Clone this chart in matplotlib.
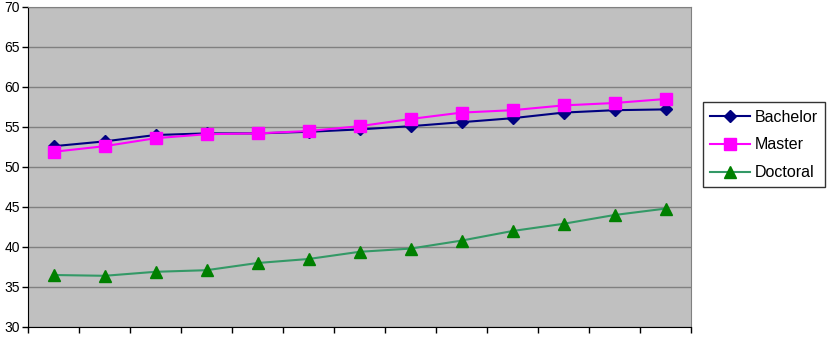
import matplotlib
matplotlib.use("Agg")
import matplotlib.pyplot as plt
import numpy as np

plt.rcParams["font.family"] = ["Liberation Sans", "DejaVu Sans"]

# values (13 categories, no x labels)
bachelor = [52.6, 53.2, 54.0, 54.2, 54.2, 54.4, 54.7, 55.1, 55.6, 56.1, 56.8, 57.1, 57.2]
master   = [51.9, 52.6, 53.6, 54.1, 54.2, 54.5, 55.1, 56.0, 56.8, 57.1, 57.7, 58.0, 58.5]
doctoral = [36.5, 36.4, 36.9, 37.1, 38.0, 38.5, 39.4, 39.8, 40.8, 42.0, 42.9, 44.0, 44.8]
y_ticks = [30, 35, 40, 45, 50, 55, 60, 65, 70]

x = np.arange(len(bachelor))

fig = plt.figure(figsize=(8.34, 3.42), dpi=100)
ax = fig.add_axes([28/834, 15/342, (691-28)/834, (327-7)/342])
ax.set_facecolor("#C0C0C0")

ax.plot(x, bachelor, color="#000080", lw=1.5, marker="D", ms=6,
        mfc="#000080", mec="#000080", label="Bachelor", zorder=3)
ax.plot(x, master, color="#FF00FF", lw=1.5, marker="s", ms=8,
        mfc="#FF00FF", mec="#FF00FF", label="Master", zorder=3)
ax.plot(x, doctoral, color="#339966", lw=1.5, marker="^", ms=8,
        mfc="#008000", mec="#008000", label="Doctoral", zorder=3)

ax.set_xlim(-0.5, len(x) - 0.5)
ax.set_ylim(30, 70)
ax.set_yticks(y_ticks)
ax.set_xticks(np.arange(len(x) + 1) - 0.5)
ax.set_xticklabels([])
ax.yaxis.grid(True, color="#808080", lw=1)
ax.set_axisbelow(True)
ax.tick_params(axis="both", direction="out", length=4, width=1, color="black",
               labelsize=10, pad=2)
for s in ["top", "right"]:
    ax.spines[s].set_color("#808080")
for s in ["left", "bottom"]:
    ax.spines[s].set_color("black")

leg = ax.legend(loc="center left", bbox_to_anchor=(1.018, 0.569), fontsize=11.5,
                frameon=True, fancybox=False, edgecolor="black",
                handlelength=2.5, borderpad=0.45, labelspacing=0.8,
                handletextpad=0.3, borderaxespad=0)
leg.get_frame().set_linewidth(1)

fig.savefig("out.png", dpi=100)
